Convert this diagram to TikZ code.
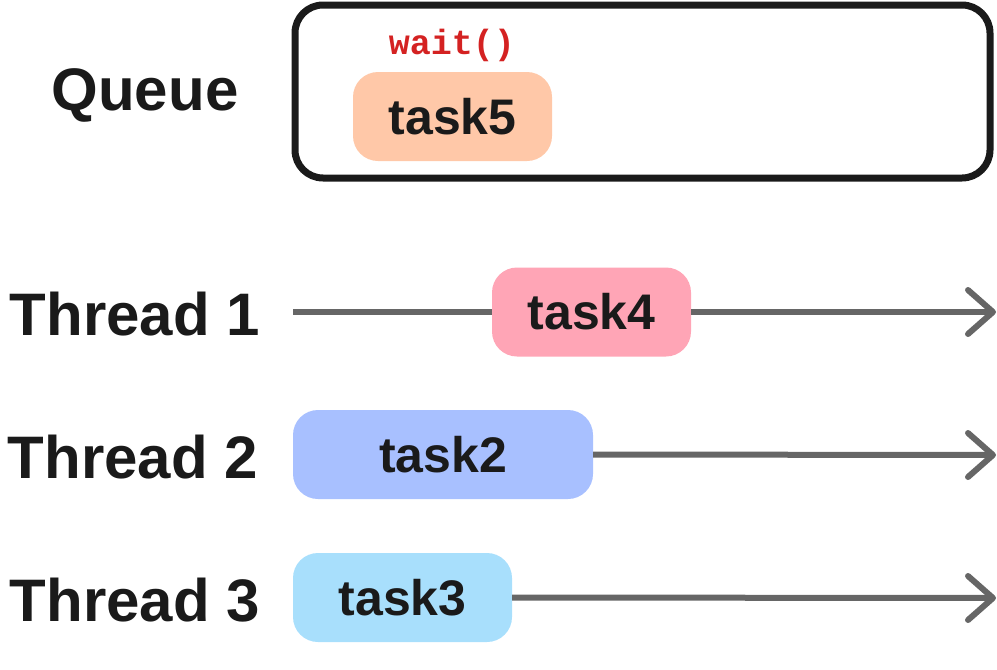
\documentclass[tikz,border=0pt]{standalone}
\usepackage{fontspec}
\setmainfont{Liberation Sans}
\setmonofont{Liberation Mono}
\definecolor{ink}{HTML}{1A1A1A}
\definecolor{linegray}{HTML}{666666}
\definecolor{waitred}{HTML}{D42222}
\definecolor{peach}{HTML}{FFC8A8}
\definecolor{pink}{HTML}{FFA5B6}
\definecolor{blue2}{HTML}{A8C0FF}
\definecolor{blue3}{HTML}{A8DFFC}
\begin{document}
\begin{tikzpicture}[x=1pt,y=-1pt,
  lbl/.style={text=ink,font=\fontsize{60}{60}\selectfont\bfseries,inner sep=0pt},
  taskbox/.style={rounded corners=25pt,minimum height=89pt,inner sep=0pt,text=ink,font=\fontsize{50}{50}\selectfont\bfseries},
  tline/.style={draw=linegray,line width=6pt},
  tip/.style={draw=linegray,line width=6pt,line cap=round,line join=round}]
\useasboundingbox (0,0) rectangle (997,670);
% queue
\node[draw=ink,line width=7pt,rounded corners=28pt,minimum width=695pt,minimum height=173pt,inner sep=0pt] (queue) at (642.5,91.5) {};
\node[lbl] (qlbl) at (145,95) {Queue};
\node[text=waitred,font=\fontsize{35}{35}\selectfont\ttfamily\bfseries,inner sep=0pt] (wait) at (452,45) {wait()};
\node[taskbox,fill=peach,minimum width=199pt] (task5) at (452.5,116.5) {task5};
% thread labels
\node[lbl] (l1) at (135,314) {Thread 1};
\node[lbl] (l2) at (133,457) {Thread 2};
\node[lbl] (l3) at (135,600) {Thread 3};
% tasks
\node[taskbox,fill=pink,minimum width=199pt] (task4) at (591.5,312) {task4};
\node[taskbox,fill=blue2,minimum width=300pt] (task2) at (443,454.5) {task2};
\node[taskbox,fill=blue3,minimum width=219pt] (task3) at (402.5,597.5) {task3};
% line endpoints
\coordinate (s1) at (293,312);
\coordinate (e1) at (993,312);
\coordinate (e2) at (993,455);
\coordinate (e3) at (993,598);
\draw[tline] (s1) -- (task4.west);
\draw[tline] (task4.east) -- (e1);
\draw[tline] (task2.east) -- (e2);
\draw[tline] (task3.east) -- (e3);
\foreach \e in {e1,e2,e3}
  \draw[tip] (\e) ++(-25,-22) -- (\e) -- ++(-25,22);
\end{tikzpicture}
\end{document}
